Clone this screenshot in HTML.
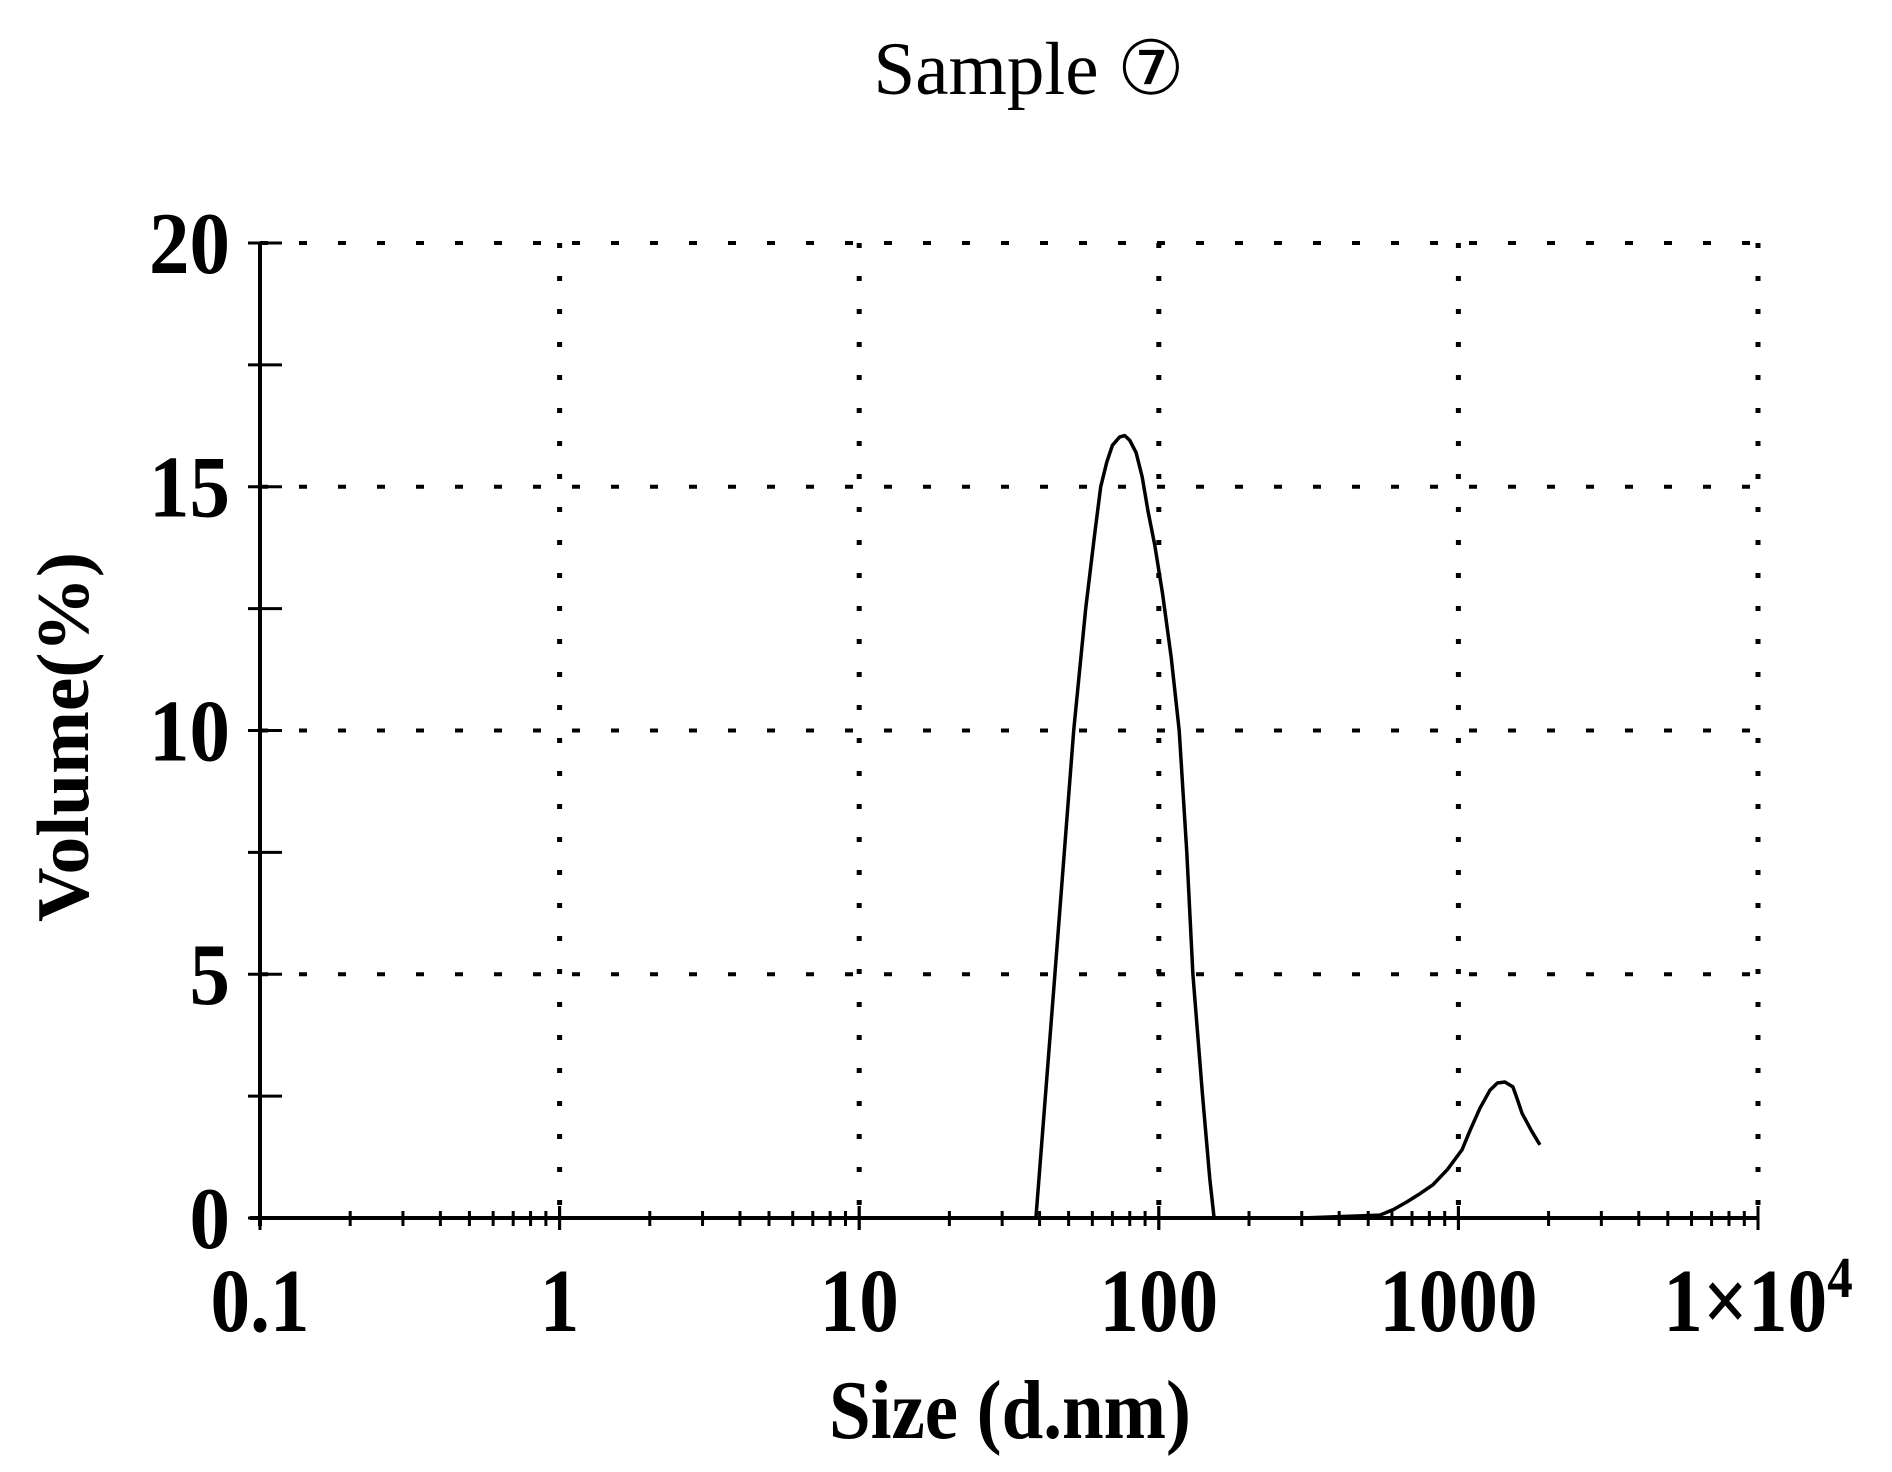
<!DOCTYPE html>
<html><head><meta charset="utf-8"><style>
html,body{margin:0;padding:0;background:#fff;}
svg{display:block;}
text{font-family:"Liberation Serif","DejaVu Serif",serif;fill:#000;}
</style></head>
<body>
<svg id="chart" width="1892" height="1472" viewBox="0 0 1892 1472" xmlns="http://www.w3.org/2000/svg">
<text x="1029" y="94" font-size="75" text-anchor="middle">Sample ⑦</text>
<g id="grid"></g>
<g id="axes"></g>
<g id="series"></g>
<g id="labels"></g>
<text x="1010" y="1438" font-size="84" font-weight="bold" text-anchor="middle" textLength="362" lengthAdjust="spacingAndGlyphs">Size (d.nm)</text>
<text transform="translate(88,737) rotate(-90)" x="0" y="0" font-size="74" font-weight="bold" text-anchor="middle" textLength="370" lengthAdjust="spacingAndGlyphs">Volume(%)</text>
</svg>
<script>
const xTicks = [0.1, 1, 10, 100, 1000, 10000];
const xTickLabels = ["0.1", "1", "10", "100", "1000", "1×10"];
const yTicks = [0, 5, 10, 15, 20];
const yTickLabels = ["0", "5", "10", "15", "20"];
const sizes = [0.4, 10, 38.9, 45, 52, 57, 61, 64, 67, 70, 74, 77, 80, 84, 88, 92, 97, 103, 110, 117, 124, 130, 140, 148, 153, 300, 547, 610, 673, 745, 822, 920, 1028, 1094, 1180, 1274, 1350, 1430, 1520, 1570, 1630, 1750, 1871];
const volumes = [0, 0, 0, 5, 10, 12.5, 14, 15, 15.5, 15.85, 16.02, 16.05, 15.95, 15.7, 15.2, 14.5, 13.8, 12.8, 11.5, 10, 7.5, 5, 2.5, 0.8, 0, 0, 0.06, 0.18, 0.33, 0.5, 0.68, 1.0, 1.4, 1.8, 2.25, 2.62, 2.77, 2.79, 2.69, 2.45, 2.15, 1.8, 1.5];

const X0 = 260, DEC = 299.6, Y0 = 1218, YU = 48.75;
const xs = v => X0 + (Math.log10(v) + 1) * DEC;
const ys = v => Y0 - v * YU;
const NS = "http://www.w3.org/2000/svg";
function mk(tag, attrs, parent) {
  const e = document.createElementNS(NS, tag);
  for (const k in attrs) e.setAttribute(k, attrs[k]);
  parent.appendChild(e);
  return e;
}
const grid = document.getElementById('grid');
const axes = document.getElementById('axes');
const series = document.getElementById('series');
const labels = document.getElementById('labels');
const xMin = xs(xTicks[0]), xMax = xs(xTicks[xTicks.length - 1]);
const yTop = ys(20);

yTicks.forEach(t => {
  if (t === 0) return;
  const l = mk('line', {x1: xMin, x2: xMax, y1: ys(t), y2: ys(t), stroke: '#000', 'stroke-width': 4, 'stroke-dasharray': '8 31'}, grid);
  
  
});
xTicks.forEach(t => {
  if (t === xTicks[0]) return;
  const l = mk('line', {x1: xs(t), x2: xs(t), y1: yTop, y2: Y0, stroke: '#000', 'stroke-width': 5, 'stroke-dasharray': '5 28'}, grid);
  
  
});

let a = mk('line', {x1: X0, x2: X0, y1: yTop, y2: Y0 + 8, stroke: '#000', 'stroke-width': 4}, axes);


a = mk('line', {x1: X0 - 10, x2: xMax, y1: Y0, y2: Y0, stroke: '#000', 'stroke-width': 4}, axes);


for (let v = 0; v <= 20; v += 2.5) {
  const t = mk('line', {x1: X0 - 12, x2: X0 + 22, y1: ys(v), y2: ys(v), stroke: '#000', 'stroke-width': 3}, axes);
  
  
}
for (let d = 0; d < 5; d++) {
  for (let m = 1; m <= 10; m++) {
    const v = xTicks[d] * m;
    const big = (m === 1 || m === 10);
    const t = mk('line', {x1: xs(v), x2: xs(v), y1: Y0 - (big ? 12 : 7), y2: Y0 + (big ? 12 : 8), stroke: '#000', 'stroke-width': 3}, axes);
    
    
  }
}

let dstr = '';
sizes.forEach((s, i) => { dstr += (i ? 'L' : 'M') + xs(s).toFixed(1) + ',' + ys(volumes[i]).toFixed(1); });
const p = mk('path', {d: dstr, fill: 'none', stroke: '#000', 'stroke-width': 3.5, 'stroke-linejoin': 'round'}, series);



yTicks.forEach((t, i) => {
  const g = mk('text', {x: 230, y: ys(t) + 30, 'font-size': 88, 'font-weight': 'bold', 'text-anchor': 'end', transform: 'translate(230,0) scale(0.92,1) translate(-230,0)'}, labels);
  g.textContent = yTickLabels[i];
  
  
});
xTicks.forEach((t, i) => {
  const cx = xs(t);
  const g = mk('text', {x: cx, y: 1331, 'font-size': 90, 'font-weight': 'bold', 'text-anchor': 'middle', transform: 'translate(' + cx + ',0) scale(0.88,1) translate(' + (-cx) + ',0)'}, labels);
  g.textContent = xTickLabels[i];
  if (i === 5) {
    const s = mk('tspan', {dy: -34, 'font-size': 58}, g);
    s.textContent = '4';
  }
  
  
});
</script>
</body></html>
